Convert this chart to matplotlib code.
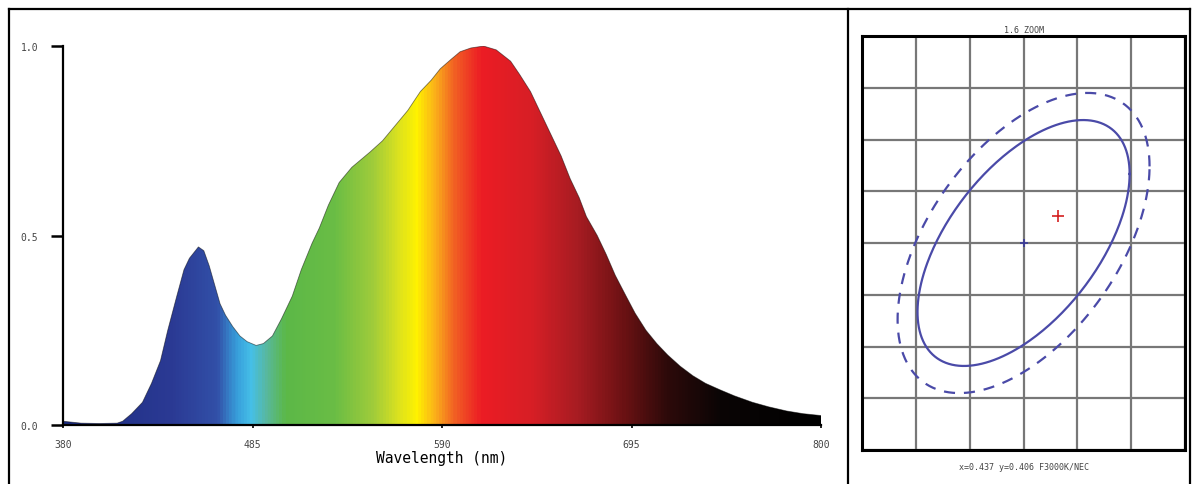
import matplotlib
matplotlib.use("Agg")
import matplotlib.pyplot as plt
import numpy as np
from matplotlib.colors import LinearSegmentedColormap
from matplotlib.lines import Line2D

# spectrum
wavelength = [380, 390, 400, 410, 413, 418, 424, 429, 434, 438, 443, 447, 450, 455, 458,
              461, 464, 467, 470, 474, 478, 482, 487, 491, 496, 501, 507, 512, 518, 522,
              527, 533, 540, 550, 557, 564, 571, 578, 584, 589, 595, 600, 606, 613, 620,
              628, 633, 639, 645, 651, 656, 661, 666, 670, 676, 681, 686, 692, 697, 703,
              709, 715, 722, 729, 736, 744, 752, 762, 771, 781, 790, 800]
intensity = [0.01, 0.005, 0.004, 0.005, 0.01, 0.03, 0.06, 0.11, 0.17, 0.25, 0.34, 0.41, 0.44, 0.47, 0.46,
             0.42, 0.37, 0.32, 0.29, 0.26, 0.235, 0.22, 0.21, 0.215, 0.235, 0.28, 0.34, 0.41, 0.48, 0.52,
             0.58, 0.64, 0.68, 0.72, 0.75, 0.79, 0.83, 0.88, 0.91, 0.94, 0.965, 0.985, 0.995, 1.0, 0.99,
             0.96, 0.925, 0.88, 0.82, 0.76, 0.71, 0.65, 0.60, 0.55, 0.50, 0.45, 0.395, 0.34, 0.295, 0.25,
             0.215, 0.185, 0.155, 0.13, 0.11, 0.093, 0.077, 0.06, 0.048, 0.037, 0.03, 0.025]

x_ticks = [380, 485, 590, 695, 800]
y_ticks = [0.0, 0.5, 1.0]

# colour of the band at each wavelength
color_nm = [380, 440, 465, 476, 484, 492, 503, 530, 552, 566, 576, 586, 598, 612, 640, 665, 690, 715, 745, 800]
color_hex = ['#1c2c80', '#2b3a94', '#3250a8', '#38a0dc', '#46c0e8', '#58b8a0', '#5cb848', '#6abd45',
             '#a0cc3a', '#dce21f', '#fff200', '#fbb01a', '#f15a24', '#ec1c24', '#d71f26', '#a81c22',
             '#6e1214', '#2e0a0a', '#0a0505', '#000000']

# chromaticity panel
cie_x, cie_y = 0.437, 0.406
target_x, target_y = 0.4402, 0.4086
solid_ellipse = (0.00985, 0.01188, 0.00667)   # half width, half height, y shift at widest point
dashed_ellipse = (0.0117, 0.0145, 0.0074)

fig = plt.figure(figsize=(11.92, 4.85), dpi=100)

# frame lines around the two panels
frame = dict(color='black', lw=1.6, transform=fig.transFigure)
fig.add_artist(Line2D([0.0076, 0.998], [0.979, 0.979], **frame))
fig.add_artist(Line2D([0.0076, 0.0076], [-0.01, 0.979], **frame))
fig.add_artist(Line2D([0.711, 0.711], [-0.01, 0.979], **frame))
fig.add_artist(Line2D([0.998, 0.998], [-0.01, 0.979], **frame))

# ---- spectrum ----
ax = fig.add_axes([0.0529, 0.1216, 0.6359, 0.7814])
pos = [(n - 380) / 420 for n in color_nm]
cmap = LinearSegmentedColormap.from_list('spec', list(zip(pos, color_hex)))
grad = np.linspace(0, 1, 800).reshape(1, -1)
img = ax.imshow(grad, cmap=cmap, aspect='auto', extent=[380, 800, 0, 1], origin='lower', zorder=1)
poly = ax.fill_between(wavelength, 0, intensity, color='none', lw=0)
clip = poly.get_paths()[0]
img.set_clip_path(clip, transform=ax.transData)
ax.plot(wavelength, intensity, color='black', lw=0.6, alpha=0.5, zorder=2)

ax.set_xlim(380, 800)
ax.set_ylim(0, 1)
for s in ['top', 'right']:
    ax.spines[s].set_visible(False)
ax.spines['left'].set_linewidth(1.6)
ax.spines['bottom'].set_linewidth(1.6)
ax.set_xticks(x_ticks)
ax.set_yticks(y_ticks)
ax.set_xticklabels([str(t) for t in x_ticks])
ax.set_yticklabels(['%.1f' % t for t in y_ticks])
ax.tick_params(axis='y', direction='out', length=9, width=1.8, pad=9, labelsize=7,
               labelcolor='#444444')
ax.tick_params(axis='x', direction='out', length=2, width=1.2, pad=8, labelsize=7,
               labelcolor='#444444')
for lab in ax.get_xticklabels() + ax.get_yticklabels():
    lab.set_family('DejaVu Sans Mono')
ax.set_xlabel('Wavelength (nm)', family='DejaVu Sans Mono', fontsize=10.5, labelpad=1)

# ---- chromaticity zoom ----
ax2 = fig.add_axes([0.7232, 0.0701, 0.2710, 0.8536])
ax2.set_xlim(0.422, 0.452)
ax2.set_ylim(0.386, 0.426)
ax2.set_xticks(np.arange(0.422, 0.4521, 0.005))
ax2.set_yticks(np.arange(0.386, 0.4261, 0.005))
ax2.grid(True, color='#777777', lw=1.6)
ax2.tick_params(length=0, labelbottom=False, labelleft=False)
for s in ax2.spines.values():
    s.set_linewidth(2.2)

t = np.linspace(0, 2 * np.pi, 300)
for (hw, hh, ky), ls in [(solid_ellipse, '-'), (dashed_ellipse, (0, (5, 4)))]:
    M = np.array([[hw ** 2, hw * ky], [hw * ky, hh ** 2]])
    L = np.linalg.cholesky(M)
    pts = L @ np.vstack([np.cos(t), np.sin(t)])
    ax2.plot(cie_x + pts[0], cie_y + pts[1], color='#4a4aa8', lw=1.6, ls=ls)

ax2.plot([cie_x], [cie_y], marker='+', color='#3a3a9a', ms=6, mew=1.2)
ax2.plot([target_x], [target_y], marker='+', color='#d42020', ms=8, mew=1.2)
ax2.set_title('1.6 ZOOM', family='DejaVu Sans Mono', fontsize=6, color='#444444', pad=3)
ax2.text(0.5, -0.03, 'x=%.3f y=%.3f F3000K/NEC' % (cie_x, cie_y), transform=ax2.transAxes,
         ha='center', va='top', family='DejaVu Sans Mono', fontsize=6, color='#444444')

fig.savefig('out.png', dpi=100)
